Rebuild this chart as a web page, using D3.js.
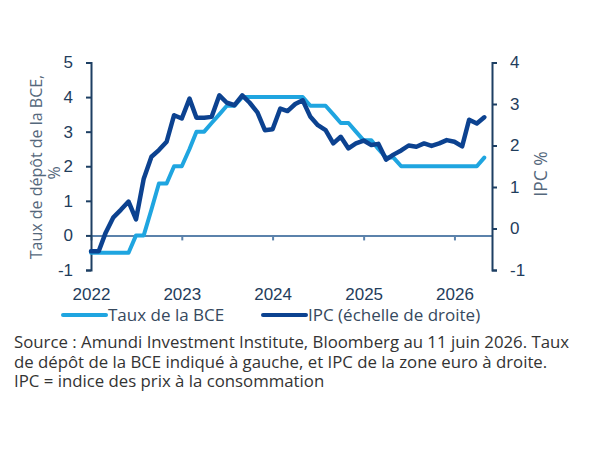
<!DOCTYPE html>
<html>
<head>
<meta charset="utf-8">
<script src="https://cdn.jsdelivr.net/npm/d3@7"></script>
<style>
  body { margin: 0; background: #fff; }
  svg { font-family: "Open Sans", "Noto Sans", sans-serif; }
</style>
</head>
<body>
<div id="chart"></div>
<script>
// Monthly data, Jan 2022 to May 2026
var startMonth = new Date(2022, 0, 1);
var endMonth = new Date(2026, 5, 1);

// ECB deposit rate (left axis, %)
var ecbRate = [
  -0.5, -0.5, -0.5, -0.5, -0.5, -0.5, 0, 0, 0.75, 1.5, 1.5, 2.0,
  2.0, 2.5, 3.0, 3.0, 3.25, 3.5, 3.75, 3.75, 4.0, 4.0, 4.0, 4.0,
  4.0, 4.0, 4.0, 4.0, 4.0, 3.75, 3.75, 3.75, 3.5, 3.25, 3.25, 3.0,
  2.75, 2.75, 2.5, 2.25, 2.25, 2.0, 2.0, 2.0, 2.0, 2.0, 2.0, 2.0,
  2.0, 2.0, 2.0, 2.0, 2.25
];

// Euro area CPI (right axis, %)
var cpi = [
  -0.55, -0.55, -0.1, 0.27, 0.45, 0.65, 0.22, 1.2, 1.73, 1.89, 2.09, 2.73,
  2.65, 3.13, 2.67, 2.67, 2.69, 3.21, 3.03, 2.97, 3.21, 3.03, 2.8, 2.37,
  2.39, 2.89, 2.83, 3.0, 3.09, 2.69, 2.49, 2.37, 2.05, 2.21, 1.93, 2.05,
  2.12, 2.01, 2.04, 1.66, 1.78, 1.88, 2.0, 1.97, 2.05, 1.99, 2.05, 2.13,
  2.09, 1.98, 2.62, 2.53, 2.68
];

var leftTicks = [-1, 0, 1, 2, 3, 4, 5];
var rightTicks = [-1, 0, 1, 2, 3, 4];
var yearTicks = [2022, 2023, 2024, 2025, 2026];

var legendLabels = ["Taux de la BCE", "IPC (échelle de droite)"];
var sourceLines = [
  "Source : Amundi Investment Institute, Bloomberg au 11 juin 2026. Taux",
  "de dépôt de la BCE indiqué à gauche, et IPC de la zone euro à droite.",
  "IPC = indice des prix à la consommation"
];

var lightBlue = "#1fa5e0";
var darkBlue = "#0c4290";
var axisColor = "#1d3f63";
var zeroColor = "#5b82ab";
var labelColor = "#1f3d5c";
var titleColor = "#55687c";

var width = 592, height = 450;
var plot = { left: 91, right: 492, top: 62.5, bottom: 270 };

var months = d3.timeMonth.range(startMonth, endMonth);

var x = d3.scaleTime().domain([startMonth, endMonth]).range([plot.left, plot.right]);
var yLeft = d3.scaleLinear().domain([-1, 5]).range([plot.bottom, plot.top]);
var yRight = d3.scaleLinear().domain([-1, 4]).range([plot.bottom, plot.top]);

var svg = d3.select("#chart").append("svg")
  .attr("width", width)
  .attr("height", height);

svg.append("rect").attr("width", width).attr("height", height).attr("fill", "#fff");

var plainNumber = function(d) { return String(d); };

// x axis on the zero line, year labels pushed down below the plot
var xAxis = svg.append("g")
  .attr("transform", "translate(0," + yLeft(0) + ")")
  .call(d3.axisBottom(x)
    .tickValues(yearTicks.map(function(y) { return new Date(y, 0, 1); }))
    .tickFormat(d3.timeFormat("%Y"))
    .tickSizeInner(5)
    .tickSizeOuter(0)
    .tickPadding(48));
xAxis.select(".domain").attr("stroke", zeroColor).attr("stroke-width", 2);
xAxis.selectAll(".tick line").attr("stroke", zeroColor).attr("stroke-width", 2);
xAxis.selectAll(".tick text").attr("fill", labelColor).style("font-size", "17px");

// Left axis
var leftAxis = svg.append("g")
  .attr("transform", "translate(" + plot.left + ",0)")
  .call(d3.axisLeft(yLeft).tickValues(leftTicks).tickFormat(plainNumber).tickSize(5).tickPadding(13));
leftAxis.select(".domain").attr("stroke", axisColor).attr("stroke-width", 2);
leftAxis.selectAll(".tick line").attr("stroke", axisColor).attr("stroke-width", 2);
leftAxis.selectAll(".tick text").attr("fill", labelColor).style("font-size", "17px");

// Right axis
var rightAxis = svg.append("g")
  .attr("transform", "translate(" + plot.right + ",0)")
  .call(d3.axisRight(yRight).tickValues(rightTicks).tickFormat(plainNumber).tickSize(5).tickPadding(13));
rightAxis.select(".domain").attr("stroke", axisColor).attr("stroke-width", 2);
rightAxis.selectAll(".tick line").attr("stroke", axisColor).attr("stroke-width", 2);
rightAxis.selectAll(".tick text").attr("fill", labelColor).style("font-size", "17px");

// Series lines
var ecbLine = d3.line()
  .x(function(d, i) { return x(months[i]); })
  .y(function(d) { return yLeft(d); });

var cpiLine = d3.line()
  .x(function(d, i) { return x(months[i]); })
  .y(function(d) { return yRight(d); });

svg.append("path")
  .datum(ecbRate)
  .attr("fill", "none")
  .attr("stroke", lightBlue)
  .attr("stroke-width", 4)
  .attr("stroke-linejoin", "round")
  .attr("stroke-linecap", "round")
  .attr("d", ecbLine);

svg.append("path")
  .datum(cpi)
  .attr("fill", "none")
  .attr("stroke", darkBlue)
  .attr("stroke-width", 4.5)
  .attr("stroke-linejoin", "round")
  .attr("stroke-linecap", "round")
  .attr("d", cpiLine);

// Axis titles
var leftTitle = svg.append("text")
  .attr("transform", "translate(42,167) rotate(-90)")
  .attr("text-anchor", "middle")
  .attr("fill", titleColor)
  .style("font-size", "16px");
leftTitle.append("tspan").attr("x", 0).attr("dy", 0).text("Taux de dépôt de la BCE,");
leftTitle.append("tspan").attr("x", -6).attr("dy", 18).text("%");

svg.append("text")
  .attr("transform", "translate(547,174) rotate(-90)")
  .attr("text-anchor", "middle")
  .attr("fill", titleColor)
  .style("font-size", "17.5px")
  .text("IPC %");

// Legend
var legendItems = [
  { label: legendLabels[0], color: lightBlue, x0: 63 },
  { label: legendLabels[1], color: darkBlue, x0: 263 }
];
var legend = svg.append("g").attr("class", "legend");
legendItems.forEach(function(item) {
  legend.append("line")
    .attr("x1", item.x0).attr("x2", item.x0 + 43)
    .attr("y1", 315).attr("y2", 315)
    .attr("stroke", item.color)
    .attr("stroke-width", 4)
    .attr("stroke-linecap", "round");
  legend.append("text")
    .attr("x", item.x0 + 45)
    .attr("y", 321)
    .attr("fill", "#36495e")
    .style("font-size", "17px")
    .text(item.label);
});

// Source note
svg.append("g").selectAll("text")
  .data(sourceLines)
  .enter().append("text")
  .attr("x", 14)
  .attr("y", function(d, i) { return 348 + i * 19.5; })
  .attr("fill", "#333")
  .style("font-size", "16.8px")
  .text(function(d) { return d; });
</script>
</body>
</html>
